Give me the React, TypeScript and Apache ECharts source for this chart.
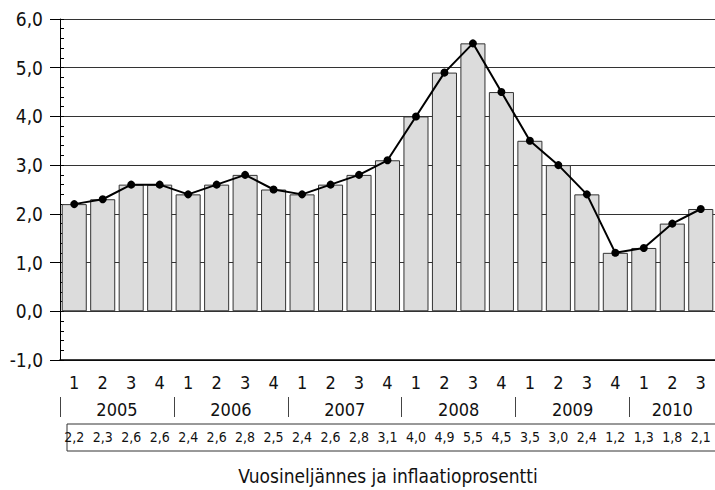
import React, { useEffect, useRef } from "react";
import * as echarts from "echarts";

const years = ["2005", "2006", "2007", "2008", "2009", "2010"];
const quartersPerYear = [4, 4, 4, 4, 4, 3];
const quarterLabels = [
  "1", "2", "3", "4",
  "1", "2", "3", "4",
  "1", "2", "3", "4",
  "1", "2", "3", "4",
  "1", "2", "3", "4",
  "1", "2", "3",
];
const inflation = [
  2.2, 2.3, 2.6, 2.6,
  2.4, 2.6, 2.8, 2.5,
  2.4, 2.6, 2.8, 3.1,
  4.0, 4.9, 5.5, 4.5,
  3.5, 3.0, 2.4, 1.2,
  1.3, 1.8, 2.1,
];
const yMin = -1;
const yMax = 6;
const yStep = 1;
const xTitle = "Vuosineljännes ja inflaatioprosentti";

const FONT = "'DejaVu Sans Condensed', 'Liberation Sans Narrow', 'Liberation Sans', sans-serif";

const fmt = (v: number) => v.toFixed(1).replace(".", ",");

export default function App() {
  const ref = useRef<HTMLDivElement>(null);
  useEffect(() => {
    if (!ref.current) return;
    const chart = echarts.init(ref.current, null, { renderer: "svg" });

    const yearStarts: number[] = [];
    const yearCenters: number[] = [];
    let acc = 0;
    quartersPerYear.forEach((n) => {
      yearStarts.push(acc);
      yearCenters.push(acc + n / 2);
      acc += n;
    });
    const total = acc;

    chart.setOption({
      animation: false,
      textStyle: { fontFamily: FONT },
      grid: { left: 60, right: 0, top: 19, bottom: 130, containLabel: false },
      title: {
        text: xTitle,
        left: 388,
        top: 465,
        padding: 0,
        textAlign: "center",
        textStyle: { fontSize: 19, lineHeight: 22, fontWeight: "normal", color: "#111", fontFamily: FONT },
      },
      xAxis: [
        {
          type: "category",
          data: quarterLabels,
          position: "bottom",
          axisLine: { show: true, onZero: false, lineStyle: { color: "#000", width: 1.5 } },
          axisTick: { show: false },
          axisLabel: { fontSize: 18, color: "#111", margin: 13, interval: 0, fontFamily: FONT },
          splitLine: { show: false },
        },
        {
          type: "value",
          min: 0,
          max: total,
          position: "bottom",
          offset: 37,
          axisLine: { show: false, onZero: false },
          axisTick: { show: true, customValues: yearStarts, length: 20, lineStyle: { color: "#444", width: 1 } },
          axisLabel: {
            customValues: yearCenters,
            formatter: (v: number) => {
              const i = yearCenters.findIndex((c) => Math.abs(c - v) < 1e-6);
              return i >= 0 ? years[i] : "";
            },
            fontSize: 18,
            color: "#111",
            margin: 3,
            fontFamily: FONT,
          },
          splitLine: { show: false },
        },
        {
          type: "category",
          data: inflation.map(fmt),
          position: "bottom",
          offset: 64,
          axisLine: { show: false, onZero: false },
          axisTick: { show: false },
          axisLabel: { fontSize: 14, color: "#111", margin: 6, interval: 0, fontFamily: FONT },
          splitLine: { show: false },
        },
      ],
      yAxis: [
        {
          type: "value",
          min: yMin,
          max: yMax,
          interval: yStep,
          axisLine: { show: true, lineStyle: { color: "#000", width: 1 } },
          axisTick: { show: true, length: 10, lineStyle: { color: "#000" } },
          axisLabel: { formatter: fmt, fontSize: 19, color: "#111", margin: 17, fontFamily: FONT },
          splitLine: { show: true, lineStyle: { color: "#333", width: 1 } },
        },
        {
          type: "value",
          min: yMin,
          max: yMax,
          interval: yStep,
          position: "left",
          axisLine: { show: false },
          axisTick: { show: true, inside: true, length: 4, lineStyle: { color: "#000" } },
          minorTick: { show: true, splitNumber: 5, length: 4, lineStyle: { color: "#000" } },
          axisLabel: { show: false },
          splitLine: { show: false },
        },
      ],
      series: [
        {
          type: "bar",
          data: inflation,
          xAxisIndex: 0,
          yAxisIndex: 0,
          barCategoryGap: "12%",
          itemStyle: { color: "#dcdcdc", borderColor: "#333", borderWidth: 1 },
        },
        {
          type: "line",
          data: inflation,
          xAxisIndex: 0,
          yAxisIndex: 0,
          symbol: "circle",
          symbolSize: 8,
          lineStyle: { color: "#000", width: 2 },
          itemStyle: { color: "#000" },
        },
      ],
      graphic: [
        {
          type: "rect",
          shape: { x: 67, y: 424, width: 700, height: 27 },
          style: { fill: "none", stroke: "#333", lineWidth: 1 },
        },
      ],
    });
    return () => chart.dispose();
  }, []);

  return (
    <div
      ref={ref}
      style={{ position: "fixed", left: 0, top: 0, width: 715, height: 490, background: "#fff" }}
    />
  );
}
